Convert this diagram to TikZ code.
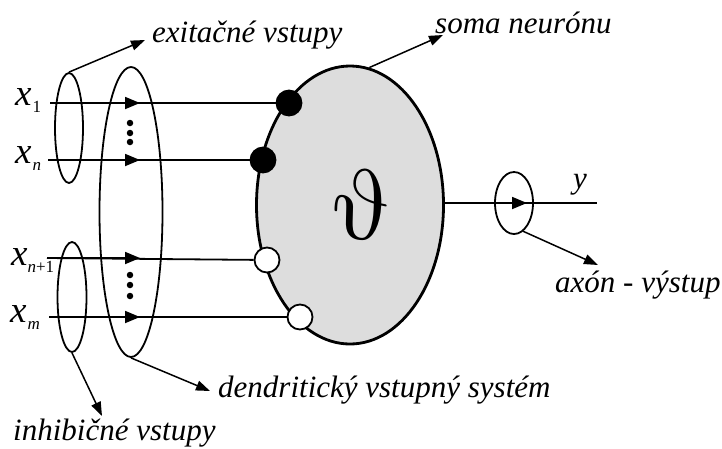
\documentclass[tikz,border=0pt]{standalone}
\usepackage{fontspec}
\setmainfont{Liberation Serif}
\usetikzlibrary{shapes.geometric,arrows.meta}
\definecolor{somagray}{RGB}{221,221,221}
\begin{document}
\begin{tikzpicture}[x=1pt,y=-1pt,
  wire/.style={line width=1.8pt},
  ann/.style={line width=1.5pt,-{Triangle[length=14pt,width=10pt]}},
  flow/.style={line width=1.8pt,-{Triangle[length=15pt,width=12pt]}},
  ring/.style={ellipse,draw,line width=1.8pt,inner sep=0pt},
  lbl/.style={font=\fontsize{31}{31}\selectfont\itshape,inner sep=0pt,anchor=base west},
  xlbl/.style={inner sep=0pt,anchor=base west},
  dotm/.style={circle,fill,inner sep=0pt,minimum size=6.5pt},
  syn/.style={circle,draw,line width=1.8pt,inner sep=0pt,minimum size=25pt},
]
\useasboundingbox (0,0) rectangle (722,448);
\newcommand{\bigx}{{\fontsize{37}{37}\selectfont\itshape x}}
\newcommand{\subsz}{\fontsize{17}{17}\selectfont}
% input labels
\node[xlbl] (lx1) at (15,105) {\bigx\kern1pt\raisebox{-7pt}{\subsz\upshape 1}};
\node[xlbl] (lxn) at (15,163) {\bigx\kern1pt\raisebox{-7pt}{\subsz\itshape n}};
\node[xlbl] (lxa) at (11,265) {\bigx\kern0pt\raisebox{-7pt}{\subsz\itshape n\upshape+1}};
\node[xlbl] (lxm) at (10,322) {\bigx\kern1pt\raisebox{-7pt}{\subsz\itshape m}};
\coordinate (s1) at (50,103);
\coordinate (s2) at (48,160);
\coordinate (s3) at (47,258);
\coordinate (s4) at (49,317);
\coordinate (a1) at (140,103);
\coordinate (a2) at (140,160);
\coordinate (a3) at (140,258);
\coordinate (a4) at (140,317);
% soma
\node[ellipse,draw,line width=2.8pt,fill=somagray,minimum width=187pt,minimum height=278pt,inner sep=0pt] (soma) at (350,205) {};
\node[xslant=-0.22,transform shape,inner sep=0pt] (theta) at (360,205) {\scalebox{10}{$\vartheta$}};
% synapses
\node[syn,fill=black] (c1) at (289,103) {};
\node[syn,fill=black] (c2) at (263,160) {};
\node[syn,fill=white] (c3) at (267,260) {};
\node[syn,fill=white] (c4) at (300,317) {};
% input wires
\draw[wire] (s1) -- (c1);
\draw[wire] (s2) -- (c2);
\draw[wire] (s3) -- (c3);
\draw[wire] (s4) -- (c4);
\draw[flow] (s1) -- (a1);
\draw[flow] (s2) -- (a2);
\draw[flow] (s3) -- (a3);
\draw[flow] (s4) -- (a4);
% groupings
\node[ring,minimum width=28pt,minimum height=110pt] (e1) at (69,128) {};
\node[ring,minimum width=29pt,minimum height=110pt] (e2) at (72,297) {};
\node[ring,minimum width=63pt,minimum height=290pt] (big) at (131,212) {};
% dots
\node[dotm] (d1) at (130,123) {};
\node[dotm] (d2) at (130,133) {};
\node[dotm] (d3) at (130,142) {};
\node[dotm] (d4) at (130,275) {};
\node[dotm] (d5) at (130,285) {};
\node[dotm] (d6) at (130,296) {};
% output
\coordinate (yend) at (597,203);
\coordinate (ya) at (527,203);
\draw[wire] (soma.east |- yend) -- (yend);
\draw[flow] (soma.east |- yend) -- (ya);
\node[ring,minimum width=38pt,minimum height=62pt] (ax) at (514,203) {};
\node[lbl] (ylab) at (573,188) {y};
% annotation labels
\node[lbl] (exc) at (152,42) {exitačné vstupy};
\node[lbl] (som) at (435,33) {soma neurónu};
\node[lbl] (axo) at (555,292) {axón - výstup};
\node[lbl] (den) at (218,397) {dendritický vstupný systém};
\node[lbl] (inh) at (13,440) {inhibičné vstupy};
\coordinate (t1) at (145,40);
\coordinate (t2) at (443,35);
\coordinate (t3) at (598,265);
\coordinate (t4) at (210,391);
\coordinate (t5) at (102,416);
\draw[ann] (e1.north) -- (t1);
\draw[ann] (soma.82) -- (t2);
\draw[ann] (ax.-72) -- (t3);
\draw[ann] (big.south) -- (t4);
\draw[ann] (e2.south) -- (t5);
\end{tikzpicture}
\end{document}
